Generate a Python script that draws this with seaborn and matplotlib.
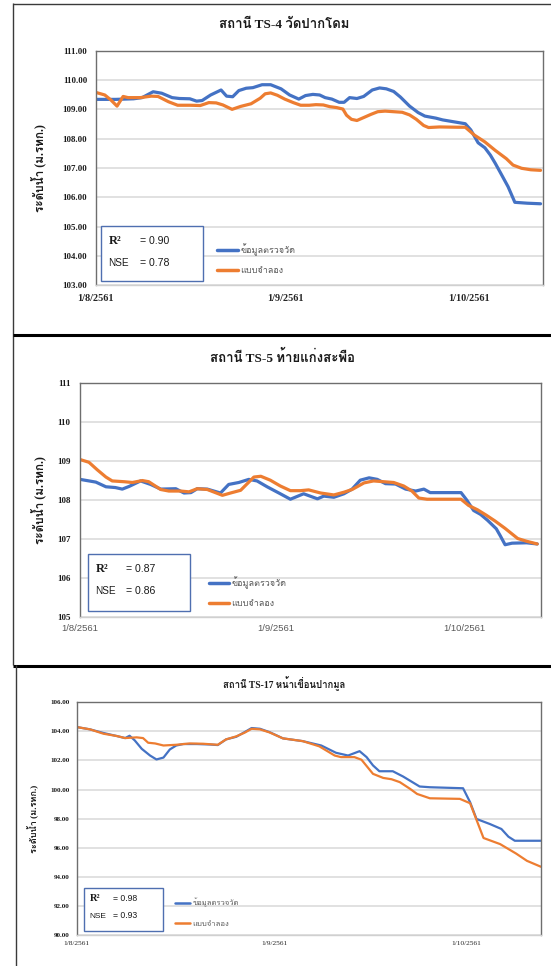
import numpy as np
import pandas as pd
import matplotlib
matplotlib.use("Agg")
import matplotlib.pyplot as plt
from matplotlib import font_manager
from matplotlib.ft2font import FT2Font
from matplotlib.lines import Line2D
from matplotlib.patches import Rectangle
import seaborn as sns

# ---------------------------------------------------------------- data
start_date = "2018-08-01"
tick_days = [0, 31, 61]
tick_labels = ["1/8/2561", "1/9/2561", "1/10/2561"]
series_names = ["ข้อมูลตรวจวัด", "แบบจำลอง"]
titles = ["สถานี TS-4 วัดปากโดม", "สถานี TS-5 ท้ายแก่งสะพือ", "สถานี TS-17 หน้าเขื่อนปากมูล"]
y_label = "ระดับน้ำ (ม.รทก.)"
r2_values = [0.90, 0.87, 0.98]
nse_values = [0.78, 0.86, 0.93]

# TS-4 (days after 1 Aug, water level)
ts4_obs_days = [0, 3.3, 6.2, 7.6, 9.4, 10.8, 12.5, 13.7, 15.4, 16.5, 17.4, 18.8, 20.5, 21.4,
                22.4, 23.4, 24.6, 25.7, 27.2, 28.6, 30.3, 31.7, 33.2, 34.3, 35.5, 36.6, 37.5,
                38.6, 39.8, 40.6, 41.5, 42.7, 43.8, 45.2, 46.4, 47.5, 48.7, 49.8, 51.3, 52.7,
                53.8, 55.6, 56.7, 58.4, 60.4, 61.3, 62.5, 63.6, 64.5, 65.3, 66.2, 67.4, 68.5,
                70.5, 72.7]
ts4_obs_level = [109.34, 109.34, 109.36, 109.40, 109.60, 109.55, 109.40, 109.37, 109.36, 109.28,
                 109.30, 109.49, 109.66, 109.45, 109.43, 109.64, 109.72, 109.74, 109.84, 109.84,
                 109.70, 109.49, 109.35, 109.47, 109.51, 109.49, 109.40, 109.35, 109.24, 109.24,
                 109.40, 109.37, 109.44, 109.66, 109.73, 109.70, 109.61, 109.42, 109.11, 108.89,
                 108.77, 108.70, 108.64, 108.58, 108.51, 108.30, 107.86, 107.69, 107.44, 107.16,
                 106.82, 106.36, 105.83, 105.80, 105.78]
ts4_sim_days = [0, 1.5, 2.5, 3.5, 4.5, 5.3, 7.3, 9.1, 10.2, 11.9, 13.4, 15.4, 17.1, 18.5, 19.7,
                20.8, 22.3, 23.7, 25.4, 26.9, 27.7, 28.6, 29.7, 30.9, 32.3, 33.5, 34.9, 36.0,
                37.2, 38.3, 39.4, 40.4, 41.0, 41.8, 42.7, 43.8, 45.0, 46.1, 47.3, 48.7, 50.1,
                51.3, 52.4, 53.6, 54.4, 56.2, 59.1, 60.4, 61.9, 63.6, 65.3, 67.1, 68.2, 69.6,
                71.1, 72.7]
ts4_sim_level = [109.58, 109.49, 109.32, 109.11, 109.44, 109.40, 109.40, 109.45, 109.44, 109.26,
                 109.14, 109.14, 109.13, 109.23, 109.22, 109.15, 109.00, 109.10, 109.19, 109.38,
                 109.53, 109.56, 109.48, 109.35, 109.23, 109.14, 109.14, 109.16, 109.15, 109.09,
                 109.06, 109.01, 108.80, 108.66, 108.62, 108.72, 108.83, 108.92, 108.94, 108.92,
                 108.90, 108.81, 108.66, 108.45, 108.38, 108.40, 108.39, 108.39, 108.12, 107.89,
                 107.60, 107.32, 107.10, 106.99, 106.94, 106.92]

# TS-5
ts5_obs_days = [0, 2.5, 4.1, 5.6, 6.7, 7.8, 9.6, 11.2, 12.8, 15.2, 16.5, 17.6, 18.6, 20.2, 22.3,
                23.6, 25.2, 26.8, 28.1, 29.7, 31.8, 33.4, 35.5, 37.7, 38.7, 40.3, 41.9, 43.2,
                44.5, 45.9, 47.2, 48.5, 50.1, 51.7, 53.3, 54.6, 55.6, 60.5, 61.4, 62.5, 63.6,
                64.7, 66.1, 66.7, 67.5, 68.6, 70.9, 72.6]
ts5_obs_level = [108.53, 108.46, 108.34, 108.32, 108.28, 108.35, 108.49, 108.40, 108.28, 108.29,
                 108.18, 108.19, 108.29, 108.28, 108.18, 108.40, 108.45, 108.53, 108.49, 108.34,
                 108.16, 108.02, 108.16, 108.03, 108.10, 108.07, 108.16, 108.28, 108.51, 108.57,
                 108.53, 108.42, 108.41, 108.28, 108.23, 108.28, 108.19, 108.19, 108.00, 107.73,
                 107.63, 107.48, 107.26, 107.09, 106.85, 106.89, 106.90, 106.87]
ts5_sim_days = [0, 1.4, 2.7, 4.1, 5.1, 7.0, 8.3, 9.9, 10.9, 12.8, 14.1, 16.0, 17.3, 18.6, 20.2,
                22.6, 23.9, 25.5, 27.6, 28.7, 30.2, 31.8, 33.4, 35.0, 36.3, 38.2, 40.3, 41.9,
                43.2, 45.1, 46.6, 48.2, 49.8, 51.4, 52.7, 53.8, 55.1, 60.5, 61.7, 63.1, 64.5,
                65.9, 67.5, 69.5, 70.9, 72.6]
ts5_sim_level = [109.04, 108.97, 108.78, 108.59, 108.49, 108.47, 108.45, 108.50, 108.47, 108.27,
                 108.23, 108.23, 108.21, 108.29, 108.27, 108.12, 108.18, 108.25, 108.59, 108.61,
                 108.51, 108.36, 108.24, 108.24, 108.26, 108.18, 108.13, 108.20, 108.27, 108.44,
                 108.49, 108.47, 108.45, 108.36, 108.23, 108.05, 108.02, 108.02, 107.86, 107.75,
                 107.61, 107.46, 107.27, 107.01, 106.94, 106.87]

# TS-17
ts17_obs_days = [0, 2.1, 4.2, 6.3, 7.6, 8.3, 9.1, 10.2, 11.5, 12.5, 13.6, 14.6, 15.6, 16.7, 18.8,
                 20.8, 22.1, 23.4, 25.0, 26.3, 27.4, 28.7, 30.2, 32.3, 35.4, 38.3, 40.6, 42.5,
                 44.3, 45.4, 46.4, 47.4, 49.5, 51.1, 53.7, 55.3, 60.5, 61.6, 62.6, 64.7, 66.5,
                 67.6, 68.6, 72.7]
ts17_obs_level = [104.30, 104.14, 103.89, 103.68, 103.54, 103.70, 103.38, 102.80, 102.34, 102.07,
                  102.20, 102.76, 103.03, 103.13, 103.13, 103.10, 103.06, 103.45, 103.63, 103.95,
                  104.23, 104.18, 103.95, 103.52, 103.33, 103.03, 102.53, 102.34, 102.64, 102.23,
                  101.66, 101.26, 101.26, 100.90, 100.21, 100.16, 100.09, 99.13, 97.98, 97.63,
                  97.29, 96.76, 96.48, 96.48]
ts17_sim_days = [0, 2.1, 4.2, 6.3, 7.6, 9.4, 10.4, 11.2, 12.3, 13.6, 15.6, 17.7, 19.8, 22.1, 23.4,
                 25.0, 26.3, 27.4, 28.7, 30.2, 32.3, 35.4, 38.0, 40.4, 41.4, 43.5, 44.6, 46.4,
                 48.0, 49.3, 50.6, 52.2, 53.3, 55.3, 60.0, 61.6, 63.7, 66.3, 68.8, 70.5, 72.7]
ts17_sim_level = [104.30, 104.14, 103.84, 103.68, 103.54, 103.59, 103.54, 103.22, 103.17, 103.03,
                  103.08, 103.17, 103.15, 103.08, 103.45, 103.66, 103.91, 104.18, 104.14, 103.93,
                  103.52, 103.33, 102.97, 102.34, 102.23, 102.23, 102.05, 101.08, 100.80, 100.71,
                  100.51, 100.05, 99.70, 99.40, 99.36, 99.06, 96.67, 96.25, 95.60, 95.10, 94.69]

# ---------------------------------------------------------------- fonts
sns.set_theme(style="white")


def thai_capable_family():
    """Name of an installed family that carries Thai glyphs, if any."""
    found = []
    for entry in font_manager.fontManager.ttflist:
        try:
            cmap = FT2Font(entry.fname).get_charmap()
        except Exception:
            continue
        if 0x0E2A in cmap and 0x0E19 in cmap and 0x0E33 in cmap:
            found.append(entry.name)
    return found[0] if found else "DejaVu Sans"


THAI = thai_capable_family()
SERIF = ["Liberation Serif", THAI, "DejaVu Sans"]
SANS = ["Liberation Sans", THAI, "DejaVu Sans"]
plt.rcParams["font.family"] = SANS

W, H = 551, 966
fig = plt.figure(figsize=(W / 100, H / 100), dpi=100)
fig.patch.set_facecolor("white")


def fx(px):
    return px / W


def fy(py):
    return 1 - py / H


def fig_line(x0, y0, x1, y1, lw, color="black"):
    fig.add_artist(Line2D([fx(x0), fx(x1)], [fy(y0), fy(y1)], lw=lw, color=color,
                          transform=fig.transFigure, solid_capstyle="butt"))


# chart-area frames
fig_line(13, 3.5, 560, 3.5, 1.0, "#3a3a3a")
fig_line(13, 3, 13, 665, 1.0, "#3a3a3a")
fig_line(13, 334.5, 560, 334.5, 2.2)
fig_line(13, 665.5, 560, 665.5, 2.2)
fig_line(15.8, 665, 15.8, 970, 1.0, "#3a3a3a")

BLUE = "#4472C4"
ORANGE = "#ED7D31"

panels = [
    dict(obs=(ts4_obs_days, ts4_obs_level), sim=(ts4_sim_days, ts4_sim_level),
         box=(95.6, 50.7, 543, 285.3), ylim=(103, 111), ystep=1, yfmt="{:.2f}",
         ytick_size=6.4, ytick_pad=6.0, xtick_size=7.4, xtick_font=SERIF, xtick_weight="bold",
         xtick_color="#262626", xpad=3.6, xmax=73.1, lw=2.3,
         title_xy=(284, 25), title_size=9.5, ylabel_xy=(38.5, 168), ylabel_size=8.5,
         stat_box=(100.8, 226.3, 202.7, 281), r2_xy=(108.5, 241), nse_xy=(108.5, 263.5),
         eq_x=140.5, r_size=9, stat_size=7.6, nse_size=7.2,
         legend_xy=(217, 243), legend_size=6.5, handle_len=2.3, leg_spacing=1.2),
    dict(obs=(ts5_obs_days, ts5_obs_level), sim=(ts5_sim_days, ts5_sim_level),
         box=(80.1, 383.3, 541, 616.7), ylim=(105, 111), ystep=1, yfmt="{:.0f}",
         ytick_size=6.4, ytick_pad=7.0, xtick_size=6.8, xtick_font=SANS, xtick_weight="normal",
         xtick_color="#595959", xpad=3.0, xmax=73.2, lw=2.3,
         title_xy=(283, 357.5), title_size=9.5, ylabel_xy=(38.5, 500), ylabel_size=8.5,
         stat_box=(87.8, 554.3, 189.7, 610.7), r2_xy=(95.5, 568.5), nse_xy=(95.5, 591),
         eq_x=126.5, r_size=9, stat_size=7.6, nse_size=7.2,
         legend_xy=(209, 576), legend_size=6.5, handle_len=2.2, leg_spacing=1.2),
    dict(obs=(ts17_obs_days, ts17_obs_level), sim=(ts17_sim_days, ts17_sim_level),
         box=(76.6, 702.3, 541, 935), ylim=(90, 106), ystep=2, yfmt="{:.2f}",
         ytick_size=5.0, ytick_pad=5.0, xtick_size=5.3, xtick_font=SERIF, xtick_weight="normal",
         xtick_color="#262626", xpad=2.0, xmax=72.7, lw=1.6,
         title_xy=(284, 683.3), title_size=6.9, ylabel_xy=(33.5, 819), ylabel_size=6.6,
         stat_box=(83.6, 888.3, 163.4, 930.7), r2_xy=(89.5, 898.5), nse_xy=(89.5, 916),
         eq_x=113, r_size=7.5, stat_size=6.2, nse_size=6.0,
         legend_xy=(175, 898), legend_size=5.5, handle_len=2.0, leg_spacing=1.75),
]

t0 = pd.Timestamp(start_date)

for i, p in enumerate(panels):
    left, top, right, bottom = p["box"]
    ax = fig.add_axes([fx(left), fy(bottom), fx(right - left), (bottom - top) / H])

    frames = []
    for name, (days, level) in zip(series_names, (p["obs"], p["sim"])):
        frames.append(pd.DataFrame({
            "date": t0 + pd.to_timedelta(np.asarray(days), unit="D"),
            "level": level,
            "series": name,
        }))
    df = pd.concat(frames, ignore_index=True)

    sns.lineplot(data=df, x="date", y="level", hue="series", hue_order=series_names,
                 palette=[BLUE, ORANGE], linewidth=p["lw"], sort=False, estimator=None,
                 ax=ax, legend=True)

    ax.set_xlim(t0, t0 + pd.Timedelta(days=p["xmax"]))
    ax.set_ylim(*p["ylim"])
    yt = np.arange(p["ylim"][0], p["ylim"][1] + 0.5 * p["ystep"], p["ystep"])
    ax.set_yticks(yt)
    ax.set_yticklabels([p["yfmt"].format(v) for v in yt], fontfamily=SERIF,
                       fontweight="bold", fontsize=p["ytick_size"], color="#1a1a1a")
    ax.set_xticks([t0 + pd.Timedelta(days=d) for d in tick_days])
    ax.set_xticklabels(tick_labels, fontfamily=p["xtick_font"], fontweight=p["xtick_weight"],
                       fontsize=p["xtick_size"], color=p["xtick_color"])
    ax.tick_params(axis="y", length=0, pad=p["ytick_pad"])
    ax.tick_params(axis="x", length=2.5, width=0.8, color="#bfbfbf", pad=p["xpad"],
                   direction="out")
    ax.set_xlabel("")
    ax.set_ylabel("")

    ax.grid(axis="y", color="#d9d9d9", lw=1.1)
    ax.grid(axis="x", visible=False)
    ax.set_axisbelow(True)
    for side in ("left", "top", "right"):
        ax.spines[side].set_color("#6e6e6e")
        ax.spines[side].set_linewidth(1.0)
        ax.spines[side].set_visible(True)
    ax.spines["bottom"].set_color("#d0d0d0")
    ax.spines["bottom"].set_linewidth(1.0)

    # legend of the two series
    handles, labels = ax.get_legend_handles_labels()
    for h in handles:
        h.set_linewidth(p["lw"] + 0.2)
    lx, ly = p["legend_xy"]
    ax.legend(handles, labels, loc="upper left", bbox_to_anchor=(fx(lx), fy(ly)),
              bbox_transform=fig.transFigure, frameon=False,
              handlelength=p["handle_len"], handletextpad=0.3, labelspacing=p["leg_spacing"],
              borderpad=0, borderaxespad=0, labelcolor="#595959",
              prop={"family": SANS, "size": p["legend_size"]})

    # title and axis label
    tx, ty = p["title_xy"]
    fig.text(fx(tx), fy(ty), titles[i], ha="center", va="center", fontfamily=SERIF,
             fontweight="bold", fontsize=p["title_size"], color="#1a1a1a")
    yx, yy = p["ylabel_xy"]
    fig.text(fx(yx), fy(yy), y_label, ha="center", va="center", rotation=90,
             fontfamily=SERIF, fontweight="bold", fontsize=p["ylabel_size"], color="#1a1a1a")

    # goodness-of-fit box
    bx0, by0, bx1, by1 = p["stat_box"]
    fig.add_artist(Rectangle((fx(bx0), fy(by1)), fx(bx1 - bx0), (by1 - by0) / H,
                             transform=fig.transFigure, fill=True, facecolor="white",
                             edgecolor="#4f6fb0", lw=1.0))
    rx, ry = p["r2_xy"]
    nx, ny = p["nse_xy"]
    fig.text(fx(rx), fy(ry), "R²", ha="left", va="center", fontfamily=SERIF,
             fontweight="bold", fontsize=p["r_size"], color="#1a1a1a")
    fig.text(fx(p["eq_x"]), fy(ry), f"= {r2_values[i]:.2f}", ha="left", va="center",
             fontfamily=SANS, fontsize=p["stat_size"], color="#1a1a1a")
    fig.text(fx(nx), fy(ny), "NSE", ha="left", va="center", fontfamily=SANS,
             fontsize=p["nse_size"], color="#1a1a1a")
    fig.text(fx(p["eq_x"]), fy(ny), f"= {nse_values[i]:.2f}", ha="left", va="center",
             fontfamily=SANS, fontsize=p["stat_size"], color="#1a1a1a")

fig.savefig("out.png", dpi=100, facecolor="white")
